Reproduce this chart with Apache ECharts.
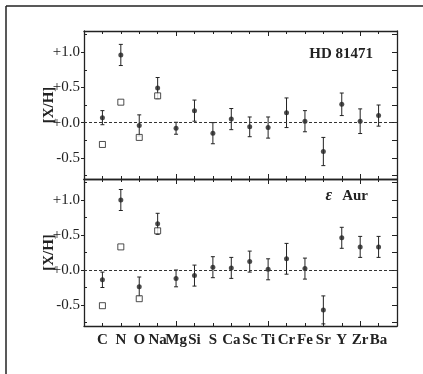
<!DOCTYPE html>
<html>
<head>
<meta charset="utf-8">
<script src="https://cdn.jsdelivr.net/npm/echarts@6/dist/echarts.min.js"></script>
<style>
html, body { margin: 0; padding: 0; background: #fff; }
#main { width: 423px; height: 374px; }
</style>
</head>
<body>
<div id="main"></div>
<script>
// elements along the x axis (positions 1..16)
const elements = ['C', 'N', 'O', 'Na', 'Mg', 'Si', 'S', 'Ca', 'Sc', 'Ti', 'Cr', 'Fe', 'Sr', 'Y', 'Zr', 'Ba'];

// HD 81471 (top panel)
const hdVal = [0.07, 0.96, -0.04, 0.49, -0.08, 0.17, -0.15, 0.05, -0.06, -0.07, 0.14, 0.02, -0.41, 0.26, 0.02, 0.10];
const hdErr = [0.10, 0.15, 0.15, 0.15, 0.085, 0.15, 0.15, 0.15, 0.14, 0.15, 0.21, 0.15, 0.20, 0.16, 0.175, 0.15];
const hdSquare = [-0.31, 0.29, -0.21, 0.38];

// eps Aur (bottom panel)
const epsVal = [-0.14, 1.00, -0.24, 0.66, -0.12, -0.08, 0.04, 0.03, 0.12, 0.01, 0.16, 0.02, -0.57, 0.46, 0.33, 0.33];
const epsErr = [0.11, 0.15, 0.14, 0.15, 0.12, 0.15, 0.15, 0.15, 0.15, 0.15, 0.22, 0.15, 0.20, 0.15, 0.15, 0.15];
const epsSquare = [-0.51, 0.33, -0.41, 0.56];

// y ticks
const yMajor = [-0.5, 0, 0.5, 1.0];
const yMinor = [-0.75, -0.25, 0.25, 0.75, 1.25];
const yAll = [-0.75, -0.5, -0.25, 0, 0.25, 0.5, 0.75, 1.0, 1.25];

const ink = '#222';
const serif = '"Liberation Serif", "DejaVu Serif", serif';

const fmtY = v => (v >= 0 ? '+' : '') + v.toFixed(1);

function xAxisFor(grid, position, labels) {
  return {
    type: 'value', gridIndex: grid, position, min: 0, max: 17, interval: 5,
    axisLine: { show: true, onZero: false, lineStyle: { color: ink, width: 1.3 } },
    axisTick: { show: true, inside: true, length: 5, lineStyle: { color: ink } },
    minorTick: { show: true, splitNumber: 5, length: 3, lineStyle: { color: ink } },
    splitLine: { show: false },
    axisLabel: labels ? {
      show: true, margin: 7, customValues: elements.map((_, i) => i + 1),
      formatter: v => elements[Math.round(v) - 1] || '',
      fontFamily: serif, fontWeight: 'bold', fontSize: 15, color: ink
    } : { show: false }
  };
}

// kind: 'major' (left, outward ticks + labels), 'minor' (left, inward ticks), 'right'
function yAxisFor(grid, kind) {
  const isMajor = kind === 'major';
  return {
    type: 'value', gridIndex: grid, position: kind === 'right' ? 'right' : 'left', min: -0.8, max: 1.3,
    axisLine: { show: kind !== 'minor', onZero: false, lineStyle: { color: ink, width: 1.3 } },
    axisTick: {
      show: true, inside: !isMajor, length: kind === 'right' ? 5 : 3,
      customValues: isMajor ? yMajor : (kind === 'minor' ? yMinor : yAll),
      lineStyle: { color: ink }
    },
    splitLine: { show: false },
    axisLabel: isMajor ? {
      show: true, margin: 4, customValues: yMajor, formatter: fmtY,
      fontFamily: serif, fontSize: 15, color: ink
    } : { show: false },
    name: isMajor ? '[X/H]' : '',
    nameLocation: 'middle', nameRotate: 90, nameGap: 27, nameMoveOverlap: false,
    nameTextStyle: { fontFamily: serif, fontWeight: 'bold', fontSize: 15, color: ink }
  };
}

// error bar with caps
function errRender(params, api) {
  const x = api.value(0), y = api.value(1), e = api.value(2);
  const hi = api.coord([x, y + e]);
  const lo = api.coord([x, y - e]);
  const c = 2;
  const st = { stroke: ink, lineWidth: 1 };
  return {
    type: 'group',
    children: [
      { type: 'line', shape: { x1: hi[0], y1: hi[1], x2: lo[0], y2: lo[1] }, style: st },
      { type: 'line', shape: { x1: hi[0] - c, y1: hi[1], x2: hi[0] + c, y2: hi[1] }, style: st },
      { type: 'line', shape: { x1: lo[0] - c, y1: lo[1], x2: lo[0] + c, y2: lo[1] }, style: st }
    ]
  };
}

function panelSeries(grid, vals, errs, squares) {
  const xi = grid * 2, yi = grid * 3;
  return [
    {
      type: 'custom', xAxisIndex: xi, yAxisIndex: yi, renderItem: errRender,
      data: vals.map((v, i) => [i + 1, v, errs[i]]), silent: true, z: 3
    },
    {
      type: 'scatter', xAxisIndex: xi, yAxisIndex: yi, symbol: 'circle', symbolSize: 5,
      itemStyle: { color: ink }, data: vals.map((v, i) => [i + 1, v]), silent: true, z: 4,
      markLine: {
        silent: true, symbol: ['none', 'none'], label: { show: false },
        lineStyle: { color: '#333', width: 1, type: [3, 2] },
        data: [{ yAxis: 0 }]
      }
    },
    {
      type: 'scatter', xAxisIndex: xi, yAxisIndex: yi, symbol: 'rect', symbolSize: 6,
      itemStyle: { color: '#fff', borderColor: ink, borderWidth: 1 },
      data: squares.map((v, i) => [i + 1, v]), silent: true, z: 5
    }
  ];
}

const option = {
  animation: false,
  backgroundColor: '#fff',
  grid: [
    { left: 84, right: 26, top: 31, height: 148 },
    { left: 84, right: 26, top: 179, height: 147 }
  ],
  xAxis: [
    xAxisFor(0, 'bottom', false), xAxisFor(0, 'top', false),
    xAxisFor(1, 'bottom', true), xAxisFor(1, 'top', false)
  ],
  yAxis: [
    yAxisFor(0, 'major'), yAxisFor(0, 'minor'), yAxisFor(0, 'right'),
    yAxisFor(1, 'major'), yAxisFor(1, 'minor'), yAxisFor(1, 'right')
  ],
  title: [
    {
      text: 'HD 81471', right: 50, top: 47, padding: 0,
      textStyle: { fontFamily: serif, fontWeight: 'bold', fontSize: 15, color: ink }
    },
    {
      text: '{e|ε}  {a|Aur}', right: 55, top: 187, padding: 0,
      textStyle: {
        rich: {
          e: { fontFamily: serif, fontWeight: 'bold', fontStyle: 'italic', fontSize: 16, color: ink },
          a: { fontFamily: serif, fontWeight: 'bold', fontSize: 15, color: ink }
        }
      }
    }
  ],
  graphic: [
    { type: 'line', shape: { x1: 6, y1: 6, x2: 423, y2: 6 }, style: { stroke: ink, lineWidth: 1.5 } },
    { type: 'line', shape: { x1: 6, y1: 6, x2: 6, y2: 374 }, style: { stroke: ink, lineWidth: 1.5 } }
  ],
  series: [
    ...panelSeries(0, hdVal, hdErr, hdSquare),
    ...panelSeries(1, epsVal, epsErr, epsSquare)
  ]
};

const myChart = echarts.init(document.getElementById('main'));
myChart.setOption(option);
</script>
</body>
</html>
